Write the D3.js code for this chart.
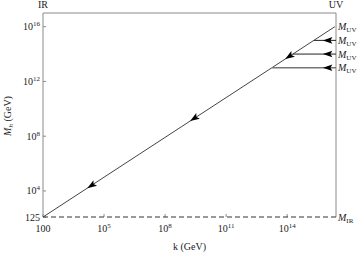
<!DOCTYPE html>
<html><head><meta charset="utf-8">
<script src="https://cdn.jsdelivr.net/npm/d3@7"></script>
<style>html,body{margin:0;padding:0;background:#fff}svg{display:block}</style>
</head><body>
<script>
// ---- data ----
const xTicks = [1e2, 1e5, 1e8, 1e11, 1e14];
const xTickLabels = ["100", "10^5", "10^8", "10^11", "10^14"];
const yTicks = [125, 1e4, 1e8, 1e12, 1e16];
const yTickLabels = ["125", "10^4", "10^8", "10^12", "10^16"];
const diagK = [1e2, 2.2e16];
const diagM = [125, 1e16];
const diagArrowK = [1.5e4, 1.7e9, 8e13];
const uvLevels = [1e16, 1e15, 1e14, 1e13];
const uvJoinK = [2.2e16, 2.1e15, 1.9e14, 1.8e13];
const uvArrowK = [null, 5.7e15, 5.7e15, 5.7e15];
const mIR = 125;

const W = 360, H = 255;
const L = 43, R = 336, T = 13, B = 217;
const x = d3.scaleLog().domain([1e2, Math.pow(10, 16.4)]).range([L, R]);
const y = d3.scaleLog().domain([125, 1e17]).range([B, T]);
const font = "'Liberation Serif','Times New Roman',serif";
const axisCol = "#8a8a8a";

const svg = d3.select("body").append("svg").attr("width", W).attr("height", H)
  .style("font-family", font);

// frame (left, top, right)
svg.append("path").attr("d", `M${L},${B}V${T}H${R}V${B}`)
  .attr("fill", "none").attr("stroke", axisCol).attr("stroke-width", 1);

function supLabel(g, txt, size) {
  const parts = txt.split("^");
  g.append("tspan").text(parts[0]);
  if (parts[1]) g.append("tspan").attr("dy", -size * 0.4).attr("font-size", size * 0.7).text(parts[1]);
}

// y ticks
yTicks.forEach((v, i) => {
  const yy = y(v);
  svg.append("line").attr("x1", L).attr("x2", L + 3).attr("y1", yy).attr("y2", yy)
    .attr("stroke", axisCol);
  const t = svg.append("text").attr("x", L - 3).attr("y", yy + 3.5)
    .attr("text-anchor", "end").attr("font-size", 10).attr("fill", "#222");
  supLabel(t, yTickLabels[i], 10);
});
// x ticks
xTicks.forEach((v, i) => {
  const xx = x(v);
  svg.append("line").attr("x1", xx).attr("x2", xx).attr("y1", B).attr("y2", B - 3)
    .attr("stroke", axisCol);
  const t = svg.append("text").attr("x", xx).attr("y", B + 15)
    .attr("text-anchor", "middle").attr("font-size", 10).attr("fill", "#222");
  supLabel(t, xTickLabels[i], 10);
});

// dashed IR line
svg.append("line").attr("x1", L).attr("x2", R).attr("y1", y(mIR)).attr("y2", y(mIR))
  .attr("stroke", "#333").attr("stroke-width", 1).attr("stroke-dasharray", "5,3");

// diagonal
const line = d3.line().x(d => x(d[0])).y(d => y(d[1]));
svg.append("path").datum(diagK.map((k, i) => [k, diagM[i]])).attr("d", line)
  .attr("fill", "none").attr("stroke", "#444").attr("stroke-width", 1);

function diagM_of(k) {
  const t = (Math.log10(k) - Math.log10(diagK[0])) / (Math.log10(diagK[1]) - Math.log10(diagK[0]));
  return Math.pow(10, Math.log10(diagM[0]) + t * (Math.log10(diagM[1]) - Math.log10(diagM[0])));
}
function arrowHead(px, py, angle) {
  // tip at (px,py), pointing in direction angle (radians)
  const len = 9.5, hw = 3.3, notch = 2;
  const pts = [[0, 0], [-len, -hw], [-len + notch, 0], [-len, hw]];
  const c = Math.cos(angle), s = Math.sin(angle);
  const p = pts.map(([a, b]) => [px + a * c - b * s, py + a * s + b * c]);
  svg.append("path").attr("d", "M" + p.map(q => q.join(",")).join("L") + "Z").attr("fill", "#000");
}
const dAng = Math.atan2(y(diagM[0]) - y(diagM[1]), x(diagK[0]) - x(diagK[1]));
diagArrowK.forEach(k => arrowHead(x(k), y(diagM_of(k)), dAng));

// UV horizontal flows
uvLevels.forEach((m, i) => {
  const yy = y(m);
  if (i > 0) {
    svg.append("line").attr("x1", x(uvJoinK[i])).attr("x2", R).attr("y1", yy).attr("y2", yy)
      .attr("stroke", i === 3 ? "#777" : "#222").attr("stroke-width", i === 3 ? 1.5 : 1);
    arrowHead(x(uvArrowK[i]), yy, Math.PI);
  }
  const t = svg.append("text").attr("x", R + 2).attr("y", yy + 3.5).attr("font-size", 10).attr("fill", "#222");
  t.append("tspan").attr("font-style", "italic").text("M");
  t.append("tspan").attr("dy", 2).attr("font-size", 7).text("UV");
});
// IR label
{
  const t = svg.append("text").attr("x", R + 2).attr("y", y(mIR) + 3.5).attr("font-size", 10).attr("fill", "#222");
  t.append("tspan").attr("font-style", "italic").text("M");
  t.append("tspan").attr("dy", 2).attr("font-size", 7).text("IR");
}

// IR / UV labels at top
svg.append("text").attr("x", L).attr("y", 8).attr("text-anchor", "middle").attr("font-size", 10).attr("fill", "#222").text("IR");
svg.append("text").attr("x", R).attr("y", 8).attr("text-anchor", "middle").attr("font-size", 10).attr("fill", "#222").text("UV");

// axis titles
svg.append("text").attr("x", (L + R) / 2).attr("y", 250).attr("text-anchor", "middle")
  .attr("font-size", 10).attr("fill", "#222").text("k (GeV)");
{
  const t = svg.append("text").attr("transform", "translate(11,116) rotate(-90)")
    .attr("text-anchor", "middle").attr("font-size", 10).attr("fill", "#222");
  t.append("tspan").attr("font-style", "italic").text("M");
  t.append("tspan").attr("dy", 2).attr("font-size", 7).attr("font-style", "italic").text("h");
  t.append("tspan").attr("dy", -2).text(" (GeV)");
}
</script>
</body></html>
